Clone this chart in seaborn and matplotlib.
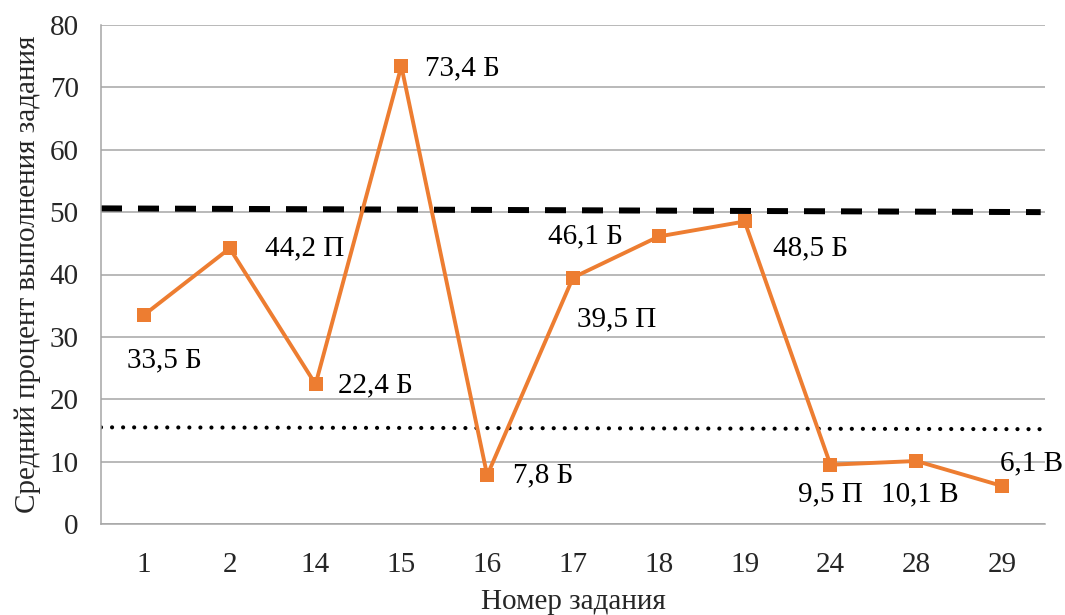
import matplotlib
matplotlib.use("Agg")
import matplotlib.pyplot as plt
import seaborn as sns
import pandas as pd

# Task numbers and average completion percentage
tasks = ["1", "2", "14", "15", "16", "17", "18", "19", "24", "28", "29"]
percent = [33.5, 44.2, 22.4, 73.4, 7.8, 39.5, 46.1, 48.5, 9.5, 10.1, 6.1]
levels = ["Б", "П", "Б", "Б", "Б", "П", "Б", "Б", "П", "В", "В"]

# Reference lines (value at left edge, value at right edge)
upper_ref = [50.6, 50.0]
lower_ref = [15.5, 15.2]

# Label placement: (dx, dy) in pixels, horizontal alignment
label_pos = [
    ((21, -45), "center"),
    ((35, 0), "left"),
    ((22, -1), "left"),
    ((24, -2), "left"),
    ((26, 0), "left"),
    ((44, -42), "center"),
    ((-36, 0), "right"),
    ((28, -27), "left"),
    ((0, -30), "center"),
    ((4, -33), "center"),
    ((-2, 23), "left"),
]

sns.set_theme(style="white")
plt.rcParams["font.family"] = ["Liberation Serif", "DejaVu Serif"]

fig = plt.figure(figsize=(10.65, 6.15), dpi=100)
ax = fig.add_axes([101 / 1065, (615 - 524) / 615, 944 / 1065, 499 / 615])

df = pd.DataFrame({"pos": range(len(tasks)), "percent": percent})
grid_c = "#A6A6A6"
ax.set_axisbelow(True)
ax.yaxis.grid(True, color=grid_c, linewidth=1.1)

# Reference lines spanning the whole plot width (dash pattern in pixels -> points)
px = 72 / 100
ax.plot([-0.5, 10.45], upper_ref, color="black", linewidth=4.3,
        linestyle=(0, (21 * px / 4.3, 16 * px / 4.3)), dash_capstyle="butt",
        zorder=2)
ax.plot([-0.5, 10.5], lower_ref, color="black", linewidth=3.0,
        linestyle=(0, (0.01, 11 * px / 3.0)), dash_capstyle="round",
        zorder=2)

sns.lineplot(data=df, x="pos", y="percent", ax=ax, color="#ED7D31",
             linewidth=2.8, marker="s", markersize=10.5, markeredgewidth=0,
             sort=False, zorder=3)

for i, (v, lv) in enumerate(zip(percent, levels)):
    (dx, dy), ha = label_pos[i]
    txt = f"{v:.1f}".replace(".", ",") + " " + lv
    ax.annotate(txt, (i, v), xytext=(dx, dy), textcoords="offset pixels",
                ha=ha, va="center", fontsize=21, color="black")

ax.set_xlim(-0.5, 10.5)
ax.set_ylim(0, 80)
ax.set_yticks(range(0, 81, 10))
ax.set_xticks(range(len(tasks)))
ax.set_xticklabels(tasks)
ax.tick_params(axis="y", length=6, color=grid_c, width=1.1, pad=10, labelsize=21)
ax.tick_params(axis="x", length=0, pad=20, labelsize=21)

for side in ["top", "right"]:
    ax.spines[side].set_visible(False)
for side in ["left", "bottom"]:
    ax.spines[side].set_color(grid_c)
    ax.spines[side].set_linewidth(1.1)

ax.set_xlabel("Номер задания", fontsize=21, labelpad=8)
ax.set_ylabel("Средний процент выполнения задания", fontsize=21, labelpad=6)

fig.savefig("out.png", dpi=100)
